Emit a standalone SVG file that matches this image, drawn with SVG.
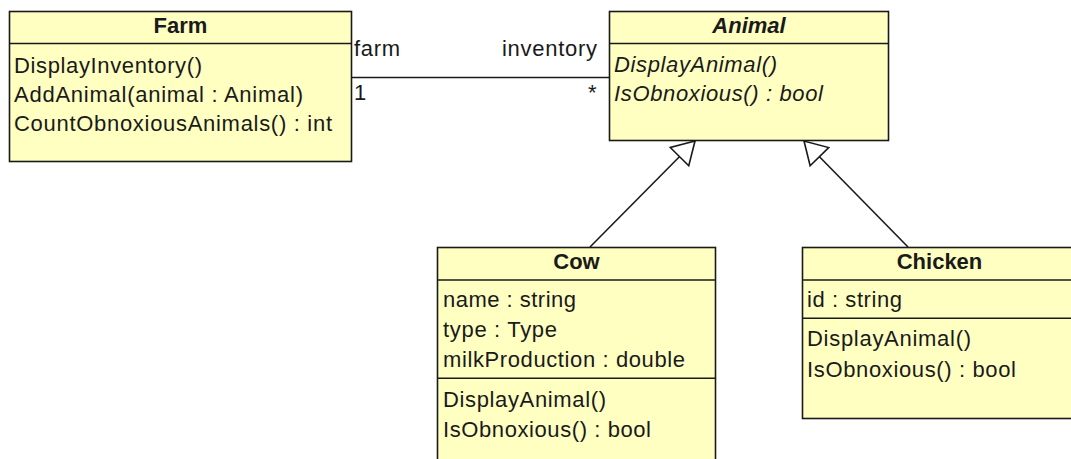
<svg xmlns="http://www.w3.org/2000/svg" width="1071" height="459" viewBox="0 0 1071 459">
  <style>
    .box { fill: #ffffc2; stroke: #1a1a1a; stroke-width: 1.6; }
    .sep { stroke: #1a1a1a; stroke-width: 1.6; }
    .t { font-family: "Liberation Sans", Arial, sans-serif; font-size: 22px; fill: #1a1a1a; }
    .title { font-weight: bold; text-anchor: middle; }
    .abs { font-style: italic; }
    .edge { stroke: #1a1a1a; stroke-width: 1.6; fill: none; }
  </style>
  <defs>
    <marker id="inherit" markerUnits="userSpaceOnUse" viewBox="-2 -15 26 30" markerWidth="26" markerHeight="30" refX="22" refY="0" orient="auto">
      <path d="M22,0 L0,-13 L0,13 Z" fill="#ffffff" stroke="#1a1a1a" stroke-width="1.6" stroke-linejoin="miter"/>
    </marker>
  </defs>
  <rect width="1071" height="459" fill="#ffffff"/>

  <g id="connectors">
    <line class="edge" x1="352" y1="77.5" x2="609" y2="77.5"/>
    <text class="t" x="354" y="56" textLength="46">farm</text>
    <text class="t" x="354" y="100">1</text>
    <text class="t" x="502" y="56" textLength="95">inventory</text>
    <text class="t" x="588" y="100">*</text>
    <line class="edge" x1="590" y1="247" x2="695" y2="141" marker-end="url(#inherit)"/>
    <line class="edge" x1="908" y1="247" x2="804" y2="141" marker-end="url(#inherit)"/>
  </g>

  <g id="farm">
    <rect class="box" x="9.5" y="11.5" width="342" height="150"/>
    <line class="sep" x1="9.5" y1="43.5" x2="351.5" y2="43.5"/>
    <text class="t title" x="180.5" y="33">Farm</text>
    <text class="t" x="14" y="72.5" textLength="188">DisplayInventory()</text>
    <text class="t" x="14" y="101.5" textLength="289">AddAnimal(animal : Animal)</text>
    <text class="t" x="14" y="130.5" textLength="318">CountObnoxiousAnimals() : int</text>
  </g>

  <g id="animal">
    <rect class="box" x="609.5" y="11.5" width="279" height="129"/>
    <line class="sep" x1="609.5" y1="43.5" x2="888.5" y2="43.5"/>
    <text class="t title abs" x="749" y="33">Animal</text>
    <text class="t abs" x="614" y="72" textLength="163">DisplayAnimal()</text>
    <text class="t abs" x="614" y="101" textLength="209">IsObnoxious() : bool</text>
  </g>

  <g id="cow">
    <rect class="box" x="437.5" y="247.5" width="278" height="230"/>
    <line class="sep" x1="437.5" y1="280" x2="715.5" y2="280"/>
    <line class="sep" x1="437.5" y1="378.3" x2="715.5" y2="378.3"/>
    <text class="t title" x="576.5" y="269">Cow</text>
    <text class="t" x="443" y="306.7" textLength="133">name : string</text>
    <text class="t" x="443" y="336.7" textLength="114">type : Type</text>
    <text class="t" x="443" y="366.7" textLength="242">milkProduction : double</text>
    <text class="t" x="443" y="406.7" textLength="163">DisplayAnimal()</text>
    <text class="t" x="443" y="436.7" textLength="208">IsObnoxious() : bool</text>
  </g>

  <g id="chicken">
    <rect class="box" x="802.5" y="247.5" width="300" height="171"/>
    <line class="sep" x1="802.5" y1="280" x2="1102.5" y2="280"/>
    <line class="sep" x1="802.5" y1="318.3" x2="1102.5" y2="318.3"/>
    <text class="t title" x="939.5" y="268.5">Chicken</text>
    <text class="t" x="807" y="307" textLength="95">id : string</text>
    <text class="t" x="807" y="346" textLength="164">DisplayAnimal()</text>
    <text class="t" x="807" y="376.5" textLength="209">IsObnoxious() : bool</text>
  </g>
</svg>
